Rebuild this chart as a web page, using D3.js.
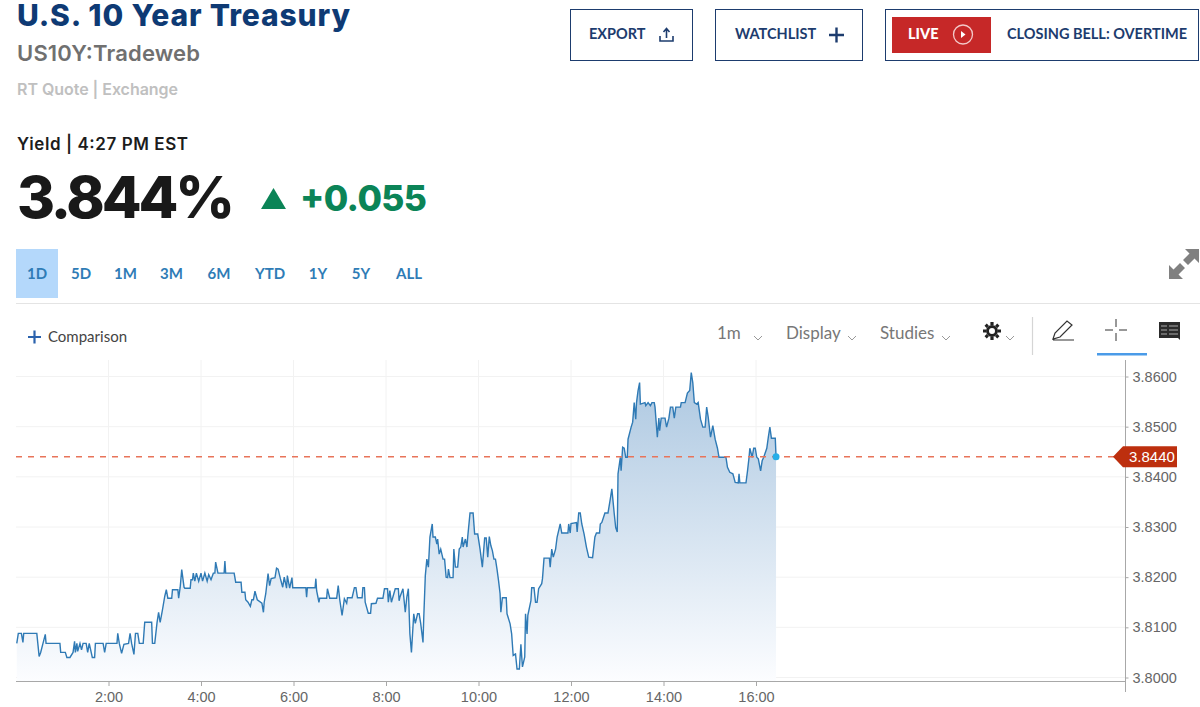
<!DOCTYPE html>
<html>

<head>
    <meta charset="utf-8">
    <title>U.S. 10 Year Treasury</title>
    <script src="https://d3js.org/d3.v7.min.js"></script>
    <style>
        body {
            margin: 0;
            background: #fff;
        }

        svg {
            display: block;
        }

        text {
            font-family: Lato, sans-serif;
        }

        .head {
            font-family: Inter, sans-serif;
        }

        .axis text {
            font-family: "Liberation Sans", Arial, sans-serif;
            font-size: 14.5px;
            fill: #666;
        }

        .axis path,
        .axis line {
            stroke: #a8a8a8;
        }
    </style>
</head>

<body>
    <svg width="1200" height="707"></svg>
    <script>
        const rangeLabels = ["1D", "5D", "1M", "3M", "6M", "YTD", "1Y", "5Y", "ALL"]
        const xTickMinutes = [120, 240, 360, 480, 600, 720, 840, 960]
        const xTickLabels = ["2:00", "4:00", "6:00", "8:00", "10:00", "12:00", "14:00", "16:00"]
        const yTicks = [3.80, 3.81, 3.82, 3.83, 3.84, 3.85, 3.86]
        const lastYield = 3.844

        // minutes after midnight, one entry per entry in yields
        const minutes = [
            1, 3, 7, 9, 10, 27, 30, 32, 35, 38,
            39, 57, 58, 64, 66, 70, 74, 76, 77, 79,
            80, 83, 85, 87, 91, 93, 95, 99, 102, 103,
            113, 115, 117, 131, 132, 134, 137, 140, 146, 148,
            150, 153, 155, 158, 160, 165, 167, 176, 177, 180,
            183, 185, 187, 190, 193, 195, 197, 202, 203, 210,
            211, 213, 215, 218, 219, 226, 227, 229, 230, 232,
            234, 237, 240, 242, 245, 248, 250, 253, 256, 258,
            259, 262, 270, 271, 272, 283, 285, 292, 293, 297,
            298, 301, 304, 306, 308, 310, 313, 319, 321,
            322, 324, 327, 329, 331, 336, 338, 340, 343, 346,
            348, 351, 352, 355, 358, 359, 376, 377, 378, 388,
            389, 390, 393, 394, 403, 404, 407, 416, 418, 420,
            423, 426, 429, 430, 436, 439, 441, 443, 449, 450,
            452, 453, 457, 460, 461, 467, 469, 476, 478, 482,
            483, 485, 487, 492, 496, 497,
            498, 502, 505, 507, 509, 511, 513, 516, 518, 521,
            523, 525, 528, 529, 531, 533, 535, 537, 540, 541,
            544, 546, 547, 549, 551, 554, 556, 558, 560, 561,
            563, 567, 568, 570, 573, 575, 577, 579, 580, 583,
            585, 586, 589, 593, 595, 599, 602, 605, 608, 610,
            612, 614, 616, 618, 620, 622, 624, 626, 628, 629,
            631, 636, 637, 641, 643, 645, 648, 650, 653, 655,
            657, 660, 661, 663, 664, 668, 669, 672, 674, 676,
            678, 682, 683, 685, 692, 693, 695, 697, 700, 702,
            706, 708, 716, 717, 719, 720, 727, 728, 730, 732,
            734, 737, 740, 743, 748, 751, 753, 757,
            758, 760, 764, 768, 771, 773, 776, 778, 780, 781,
            784, 785, 787, 789, 791, 793, 794, 798, 800, 802,
            804, 805, 807, 809, 810, 816, 817, 820, 823, 825,
            828, 829, 832, 834, 835, 837, 842, 844, 847, 849,
            852, 854, 856, 862, 863, 868, 871, 874, 876, 878,
            880, 883, 885, 888, 891, 894, 896, 898, 901, 904,
            907, 910, 912, 921, 923, 926, 930, 933, 937, 938,
            939, 947, 949, 951, 952, 955, 957, 959, 961, 963,
            966, 968, 970, 974, 976, 978, 980, 985, 986
        ]

        const yields = [
            3.8068, 3.8088, 3.8088, 3.8070, 3.8088, 3.8088, 3.8042, 3.8050, 3.8068, 3.8086,
            3.8068, 3.8068, 3.8050, 3.8050, 3.8040, 3.8040, 3.8050, 3.8072, 3.8050, 3.8068,
            3.8052, 3.8068, 3.8055, 3.8068, 3.8068, 3.8050, 3.8068, 3.8040, 3.8040, 3.8068,
            3.8068, 3.8050, 3.8068, 3.8068, 3.8088, 3.8068, 3.8048, 3.8066, 3.8068, 3.8088,
            3.8068, 3.8046, 3.8088, 3.8088, 3.8068, 3.8068, 3.8110, 3.8110, 3.8068, 3.8068,
            3.8110, 3.8130, 3.8110, 3.8135, 3.8162, 3.8175, 3.8158, 3.8158, 3.8175, 3.8175,
            3.8158, 3.8180, 3.8215, 3.8180, 3.8178, 3.8178, 3.8195, 3.8195, 3.8208, 3.8192,
            3.8208, 3.8192, 3.8208, 3.8192, 3.8208, 3.8192, 3.8205, 3.8195, 3.8208, 3.8208,
            3.8230, 3.8208, 3.8208, 3.8232, 3.8208, 3.8208, 3.8190, 3.8190, 3.8170, 3.8170,
            3.8155, 3.8150, 3.8142, 3.8155, 3.8155, 3.8172, 3.8155, 3.8148, 3.8130,
            3.8150, 3.8167, 3.8207, 3.8183, 3.8197, 3.8199, 3.8218, 3.8216, 3.8197, 3.8180,
            3.8200, 3.8178, 3.8203, 3.8178, 3.8199, 3.8179, 3.8179, 3.8160, 3.8179, 3.8179,
            3.8197, 3.8173, 3.8150, 3.8158, 3.8158, 3.8177, 3.8158, 3.8158, 3.8183, 3.8155,
            3.8124, 3.8157, 3.8148, 3.8159, 3.8159, 3.8179, 3.8179, 3.8159, 3.8159, 3.8179,
            3.8179, 3.8150, 3.8128, 3.8128, 3.8147, 3.8148, 3.8158, 3.8158, 3.8177, 3.8177,
            3.8150, 3.8173, 3.8150, 3.8177, 3.8177, 3.8153,
            3.8160, 3.8177, 3.8130, 3.8160, 3.8177, 3.8087, 3.8050, 3.8127, 3.8108, 3.8127,
            3.8127, 3.8108, 3.8070, 3.8120, 3.8203, 3.8236, 3.8220, 3.8280, 3.8306, 3.8280,
            3.8280, 3.8266, 3.8276, 3.8246, 3.8256, 3.8236, 3.8236, 3.8200, 3.8199, 3.8216,
            3.8199, 3.8199, 3.8256, 3.8220, 3.8220, 3.8256, 3.8260, 3.8280, 3.8260, 3.8276,
            3.8260, 3.8280, 3.8328, 3.8328, 3.8286, 3.8286, 3.8256, 3.8220, 3.8278, 3.8278,
            3.8240, 3.8281, 3.8263, 3.8253, 3.8236, 3.8236, 3.8216, 3.8193, 3.8167, 3.8130,
            3.8159, 3.8159, 3.8127, 3.8107, 3.8087, 3.8044, 3.8047, 3.8017, 3.8017, 3.8066,
            3.8021, 3.8041, 3.8127, 3.8087, 3.8124, 3.8153, 3.8179, 3.8179, 3.8150, 3.8150,
            3.8177, 3.8187, 3.8197, 3.8238, 3.8238, 3.8220, 3.8256, 3.8240, 3.8256, 3.8280,
            3.8306, 3.8288, 3.8288, 3.8306, 3.8288, 3.8307, 3.8309, 3.8290, 3.8328, 3.8328,
            3.8306, 3.8286, 3.8260, 3.8240, 3.8239, 3.8280, 3.8288, 3.8288,
            3.8306, 3.8309, 3.8328, 3.8328, 3.8356, 3.8376, 3.8328, 3.8299, 3.8290, 3.8406,
            3.8439, 3.8412, 3.8459, 3.8457, 3.8439, 3.8439, 3.8475, 3.8499, 3.8509, 3.8548,
            3.8515, 3.8548, 3.8572, 3.8588, 3.8545, 3.8548, 3.8542, 3.8548, 3.8542, 3.8548,
            3.8548, 3.8539, 3.8479, 3.8517, 3.8492, 3.8517, 3.8517, 3.8499, 3.8517, 3.8539,
            3.8539, 3.8517, 3.8539, 3.8539, 3.8548, 3.8548, 3.8567, 3.8572, 3.8608, 3.8588,
            3.8548, 3.8545, 3.8548, 3.8515, 3.8499, 3.8499, 3.8539, 3.8519, 3.8479, 3.8502,
            3.8475, 3.8457, 3.8439, 3.8439, 3.8419, 3.8409, 3.8406, 3.8389, 3.8388, 3.8406,
            3.8388, 3.8388, 3.8412, 3.8439, 3.8457, 3.8439, 3.8457, 3.8457, 3.8439, 3.8436,
            3.8412, 3.8432, 3.8439, 3.8457, 3.8479, 3.8499, 3.8477, 3.8477, 3.8440
        ]

        const svg = d3.select("svg")
        const navy = "#1d3c6e"
        const axisBottomY = 681

        const xScale = d3.scaleLinear().domain([0, 1440]).range([16, 1126])
        const yScale = d3.scaleLinear().domain([3.80, 3.86]).range([677.5, 376.5])

        const label = (x, y, str, size, weight, color, anchor) => svg.append("text")
            .attr("x", x)
            .attr("y", y)
            .attr("font-size", size)
            .attr("font-weight", weight)
            .attr("fill", color)
            .attr("text-anchor", anchor || "start")
            .text(str)

        const headLabel = (x, y, str, size, weight, color, width) => label(x, y, str, size, weight, color)
            .attr("class", "head")
            .attr("textLength", width)
            .attr("lengthAdjust", "spacing")

        const icon = (d, stroke, width, fill) => svg.append("path")
            .attr("d", d)
            .attr("fill", fill || "none")
            .attr("stroke", stroke)
            .attr("stroke-width", width)

        const box = (x, y, w, h) => svg.append("rect")
            .attr("x", x).attr("y", y).attr("width", w).attr("height", h)
            .attr("fill", "#fff").attr("stroke", navy).attr("stroke-width", 1)

        // header text
        headLabel(17, 26, "U.S. 10 Year Treasury", 30, 800, "#0e3a74", 333)
        headLabel(17, 61, "US10Y:Tradeweb", 22, 600, "#707070", 183)
        headLabel(17, 95, "RT Quote | Exchange", 16, 600, "#c0c0c0", 161)
        headLabel(17, 150, "Yield | 4:27 PM EST", 17, 600, "#1c1c1c", 171)
        headLabel(17, 218, "3.844%", 58, 800, "#191919", 218)
        headLabel(300, 211, "+0.055", 35.5, 800, "#0b8457", 127)
        svg.append("path").attr("d", "M261,209L273.5,188L286,209Z").attr("fill", "#0b8457")

        // buttons
        box(570.5, 9.5, 122, 51)
        label(589, 39, "EXPORT", 14.5, 700, navy)
        icon("M660,36v5h13v-5M666.5,38v-9M663.5,32l3,-3.5l3,3.5", navy, 1.6)
        box(715.5, 9.5, 147, 51)
        label(735, 39, "WATCHLIST", 14.5, 700, navy)
        icon("M829,35h15M836.5,27.500v15", navy, 2.4)
        box(885.5, 9.5, 313, 51)
        svg.append("rect").attr("x", 892).attr("y", 17).attr("width", 99).attr("height", 36).attr("fill", "#c62828")
        label(908, 39, "LIVE", 14.5, 900, "#fff")
        svg.append("circle").attr("cx", 963).attr("cy", 34.500).attr("r", 9.500)
            .attr("fill", "none").attr("stroke", "#f3c9c9").attr("stroke-width", 1.3)
        svg.append("path").attr("d", "M961,31l4.500,3.500l-4.500,3.500Z").attr("fill", "#fff")
        label(1007, 39, "CLOSING BELL: OVERTIME", 14.5, 700, navy)

        // range selector
        const rangeCenters = [37, 81, 125.5, 171.5, 219, 270, 318, 361, 409]
        svg.append("rect").attr("x", 16).attr("y", 249).attr("width", 42).attr("height", 49).attr("fill", "#b4d8fb")
        svg.selectAll(".range")
            .data(rangeLabels)
            .join("text")
            .attr("class", "range")
            .attr("x", (d, i) => rangeCenters[i])
            .attr("y", 278.5)
            .attr("text-anchor", "middle")
            .attr("font-size", 15)
            .attr("font-weight", 700)
            .attr("fill", "#2f7cb6")
            .text(d => d)

        // expand arrows
        svg.append("path")
            .attr("d", "M1199,249v14l-4.500,-4.500l-6.500,6.500l-5,-5l6.500,-6.500l-4.500,-4.500ZM1169,279v-14l4.500,4.500l6.500,-6.500l5,5l-6.500,6.500l4.500,4.500Z")
            .attr("fill", "#808080")

        svg.append("line").attr("x1", 16).attr("x2", 1200).attr("y1", 303.500).attr("y2", 303.500).attr("stroke", "#e4e4e4")

        // toolbar
        icon("M28,337h13M34.500,330.500v13", "#2a62ad", 2.2)
        label(48, 342, "Comparison", 15, 400, "#444")
        label(717, 339, "1m", 17, 400, "#777")
        label(786, 339, "Display", 17, 400, "#777")
        label(880, 339, "Studies", 17, 400, "#777")
        const chevrons = [758, 852, 946, 1010]
        chevrons.forEach(x => icon(`M${x - 4},336l4,4l4,-4`, "#999", 1))
        // gear
        const gear = d3.range(8).map(i => {
            const a = i * Math.PI / 4
            return `M${992 + 6 * Math.cos(a)},${331 + 6 * Math.sin(a)}L${992 + 9 * Math.cos(a)},${331 + 9 * Math.sin(a)}`
        }).join("")
        icon(gear, "#222", 3.2)
        svg.append("circle").attr("cx", 992).attr("cy", 331).attr("r", 4.500)
            .attr("fill", "#fff").attr("stroke", "#222").attr("stroke-width", 3)
        svg.append("line").attr("x1", 1032.500).attr("x2", 1032.500).attr("y1", 317).attr("y2", 355).attr("stroke", "#d5d5d5").attr("stroke-width", 1.2)
        // pencil
        icon("M1053,339l2,-6l12,-12l5,4l-12,12ZM1053,340h21", "#333", 1.2)
        // crosshair
        icon("M1105,330h8M1119,330h8M1116,319v8M1116,333v8", "#333", 1)
        svg.append("rect").attr("x", 1097).attr("y", 353).attr("width", 50).attr("height", 2.500).attr("fill", "#4a9be8")
        // notes
        svg.append("path").attr("d", "M1159,322h21v18l-2,-2h-19Z").attr("fill", "#2b2b2b")
        icon("M1161,326h6M1161,330h6M1161,334h6M1169,326h9M1169,330h9M1169,334h9", "#ccc", 0.8)

        // grid
        const grid = svg.append("g").attr("stroke", "#f2f2f2").attr("stroke-width", 1)
        yTicks.forEach(t => {
            grid.append("line").attr("x1", 16).attr("x2", 1125)
                .attr("y1", yScale(t)).attr("y2", yScale(t))
        })
        xTickMinutes.forEach(m => {
            grid.append("line").attr("y1", 360).attr("y2", axisBottomY)
                .attr("x1", xScale(m)).attr("x2", xScale(m))
        })

        // area + line
        const points = d3.zip(minutes, yields)

        const gradient = svg.append("defs").append("linearGradient")
            .attr("id", "areaFill")
            .attr("gradientUnits", "userSpaceOnUse")
            .attr("x1", 0).attr("x2", 0)
            .attr("y1", yScale(3.86)).attr("y2", axisBottomY)
        gradient.append("stop").attr("offset", "0%").attr("stop-color", "#adc8e1")
        gradient.append("stop").attr("offset", "100%").attr("stop-color", "#fcfdff")

        const area = d3.area()
            .x(d => xScale(d[0]))
            .y0(axisBottomY)
            .y1(d => yScale(d[1]))
        const line = d3.line()
            .x(d => xScale(d[0]))
            .y(d => yScale(d[1]))

        svg.append("path").datum(points).attr("d", area).attr("fill", "url(#areaFill)")
        svg.append("path").datum(points).attr("d", line)
            .attr("fill", "none").attr("stroke", "#2f7ab5").attr("stroke-width", 1.4)

        // axes
        const xAxis = d3.axisBottom(xScale)
            .tickValues(xTickMinutes)
            .tickFormat((d, i) => xTickLabels[i])
            .tickSize(5)
            .tickSizeOuter(0)
        const yAxis = d3.axisRight(yScale)
            .tickValues(yTicks)
            .tickFormat(d3.format(".4f"))
            .tickSize(3)
            .tickSizeOuter(0)
            .tickPadding(4)

        svg.append("g").attr("class", "axis")
            .attr("transform", `translate(0,${axisBottomY})`)
            .call(xAxis)
            .call(g => g.select(".domain").attr("d", "M16,0.500H1126"))
            .call(g => g.selectAll("text").attr("dy", "0.95em").attr("y", 7))
        svg.append("g").attr("class", "axis")
            .attr("transform", "translate(1125.500,0)")
            .call(yAxis)
            .call(g => g.select(".domain").attr("d", "M0,360V692"))

        // last value marker
        const lastY = yScale(lastYield)
        svg.append("line").attr("x1", 16).attr("x2", 1114)
            .attr("y1", lastY).attr("y2", lastY)
            .attr("stroke", "#e8745a").attr("stroke-width", 1.4).attr("stroke-dasharray", "6,6")
        svg.append("circle").attr("cx", xScale(986)).attr("cy", lastY).attr("r", 3.500).attr("fill", "#26aee8")
        svg.append("path")
            .attr("d", `M1113,${lastY}l10,-10.500h54v21h-54Z`)
            .attr("fill", "#bd2f0e")
        svg.append("text")
            .attr("x", 1129)
            .attr("y", lastY + 5.5)
            .attr("font-size", 15)
            .attr("fill", "#fff")
            .style("font-family", '"Liberation Sans", Arial, sans-serif')
            .text(d3.format(".4f")(lastYield))
    </script>
</body>

</html>
